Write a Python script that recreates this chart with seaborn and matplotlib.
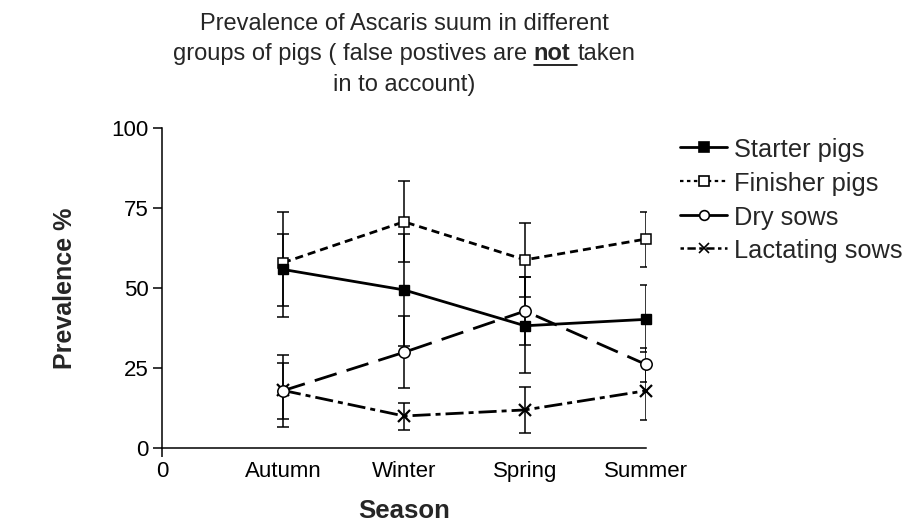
import numpy as np
import pandas as pd
import matplotlib
matplotlib.use("Agg")
import matplotlib.pyplot as plt
import seaborn as sns
from matplotlib.lines import Line2D

# ---------------- data ----------------
seasons = ["Autumn", "Winter", "Spring", "Summer"]
xtick_labels = ["0"] + seasons
groups = ["Starter pigs", "Finisher pigs", "Dry sows", "Lactating sows"]

starter = [55.8, 49.4, 38.2, 40.2]
starter_lo = [44.4, 31.9, 23.5, 30.1]
starter_hi = [66.9, 66.9, 53.3, 50.9]

finisher = [57.9, 70.7, 58.8, 65.3]
finisher_lo = [41.0, 58.2, 47.3, 56.7]
finisher_hi = [73.8, 83.5, 70.2, 73.8]

dry = [17.9, 29.9, 42.8, 26.1]
dry_lo = [6.7, 18.6, 32.2, 20.7]
dry_hi = [29.1, 41.2, 53.3, 31.3]

lact = [18.0, 10.0, 11.9, 17.9]
lact_lo = [9.0, 5.6, 4.6, 8.8]
lact_hi = [26.7, 14.2, 19.2, 27.0]

title_lines = ["Prevalence of Ascaris suum in different",
               "groups of pigs ( false postives are ", "not", " taken",
               "in to account)"]

# ---------------- style ----------------
sns.set_style("ticks")
plt.rcParams["font.family"] = ["Liberation Sans", "DejaVu Sans"]
plt.rcParams["lines.scale_dashes"] = False

fig = plt.figure(figsize=(9.09, 5.25), dpi=100)
W, H = 909, 525
ax = fig.add_axes([162 / W, 1 - 448 / H, (646 - 162) / W, 320 / H])

pos = [1, 2, 3, 4]
series = {
    "Lactating sows": (lact, lact_lo, lact_hi),
    "Dry sows": (dry, dry_lo, dry_hi),
    "Finisher pigs": (finisher, finisher_lo, finisher_hi),
    "Starter pigs": (starter, starter_lo, starter_hi),
}
styles = {
    "Starter pigs": dict(marker="s", mfc="black", ms=7.8, mew=1.0, dashes=None),
    "Finisher pigs": dict(marker="s", mfc="white", ms=7.8, mew=1.1, dashes=(5.8, 3.6)),
    "Dry sows": dict(marker="o", mfc="white", ms=8.2, mew=1.1, dashes=(16.5, 7.5)),
    "Lactating sows": dict(marker="x", mfc="black", ms=8.5, mew=1.6, dashes=(13, 3.6, 3.6, 3.6)),
}

# error bars (clipped at axes edge like the reference)
for name, (v, lo, hi) in series.items():
    v = np.array(v); lo = np.array(lo); hi = np.array(hi)
    ax.errorbar(pos, v, yerr=[v - lo, hi - v], fmt="none", ecolor="black",
                elinewidth=1.1, capsize=4.2, capthick=1.1, zorder=2)

for name, (v, lo, hi) in series.items():
    st = styles[name]
    df = pd.DataFrame({"pos": pos, "value": v})
    sns.lineplot(data=df, x="pos", y="value", ax=ax, color="black",
                 marker=st["marker"], markersize=st["ms"],
                 markerfacecolor=st["mfc"], markeredgecolor="black",
                 markeredgewidth=st["mew"], linewidth=2.0,
                 errorbar=None, legend=False, clip_on=False, zorder=3)
    line = ax.lines[-1]
    if st["dashes"] is not None:
        line.set_dashes(st["dashes"])

# ---------------- axes ----------------
ax.set_xlim(0, 4)
ax.set_ylim(0, 100)
ax.set_xticks(range(5))
ax.set_xticklabels(xtick_labels)
ax.set_yticks([0, 25, 50, 75, 100])
ax.tick_params(axis="both", direction="out", length=6.5, width=1.1,
               labelsize=16, colors="black", pad=3)
for t in ax.xaxis.get_major_ticks()[1:]:
    t.tick1line.set_visible(False)
for s in ["top", "right"]:
    ax.spines[s].set_visible(False)
for s in ["left", "bottom"]:
    ax.spines[s].set_linewidth(1.1)
    ax.spines[s].set_color("black")
ax.set_xlabel("")
ax.set_ylabel("")

fig.text(65 / W, 1 - 288 / H, "Prevalence %", rotation=90, ha="center",
         va="center", fontsize=18, fontweight="bold")
fig.text(404 / W, 1 - 518 / H, "Season", ha="center", va="baseline",
         fontsize=18.5, fontweight="bold")

# ---------------- legend (placed row by row) ----------------
leg_styles = [
    dict(lw=2.0, marker="s", ms=7, mfc="black", dashes=None),
    dict(lw=1.6, marker="s", ms=7, mfc="white", dashes=(2.5, 2.5)),
    dict(lw=2.0, marker="o", ms=7, mfc="white", dashes=None),
    dict(lw=1.8, marker="x", ms=7, mfc="black", dashes=(2.5, 2.5, 6, 2.5)),
]
baselines = [157, 191, 225, 258]
for lab, st, b in zip(groups, leg_styles, baselines):
    yl = 1 - (b - 10) / H
    ln = Line2D([680 / W, 727 / W], [yl, yl], color="black", lw=st["lw"],
                transform=fig.transFigure)
    if st["dashes"] is not None:
        ln.set_dashes(st["dashes"])
    fig.add_artist(ln)
    fig.add_artist(Line2D([703.5 / W], [yl], color="black", marker=st["marker"],
                          ms=st["ms"], mfc=st["mfc"], mec="black", mew=1.2,
                          linestyle="none", transform=fig.transFigure))
    fig.text(734 / W, 1 - b / H, lab, ha="left", va="baseline", fontsize=18.3)

# ---------------- title (with bold underlined "not") ----------------
tsize = 17
cx = 404 / W
fig.text(cx, 1 - 30.5 / H, title_lines[0], ha="center", va="baseline", fontsize=tsize)
fig.text(cx, 1 - 90.5 / H, title_lines[4], ha="center", va="baseline", fontsize=tsize)

fig.canvas.draw()
r = fig.canvas.get_renderer()
y2 = 1 - 60 / H

def width_of(s, weight="normal"):
    t = fig.text(0, 0, s, fontsize=tsize, fontweight=weight)
    w = t.get_window_extent(r).width
    t.remove()
    return w

space_w = width_of("a a") - width_of("aa")
w_a = width_of(title_lines[1].rstrip()) + space_w
w_b = width_of(title_lines[2], "bold")
w_c = width_of(title_lines[3].lstrip()) + space_w
total = w_a + w_b + w_c
x0 = cx * W - total / 2
fig.text(x0 / W, y2, title_lines[1].rstrip(), ha="left", va="baseline", fontsize=tsize)
fig.text((x0 + w_a) / W, y2, title_lines[2], ha="left", va="baseline",
         fontsize=tsize, fontweight="bold")
fig.text((x0 + w_a + w_b + space_w) / W, y2, title_lines[3].lstrip(), ha="left",
         va="baseline", fontsize=tsize)
uy = 1 - 64.5 / H
fig.add_artist(Line2D([(x0 + w_a) / W, (x0 + w_a + w_b + space_w) / W], [uy, uy],
                      color="black", lw=1.2, transform=fig.transFigure))

fig.savefig("out.png", dpi=100)
